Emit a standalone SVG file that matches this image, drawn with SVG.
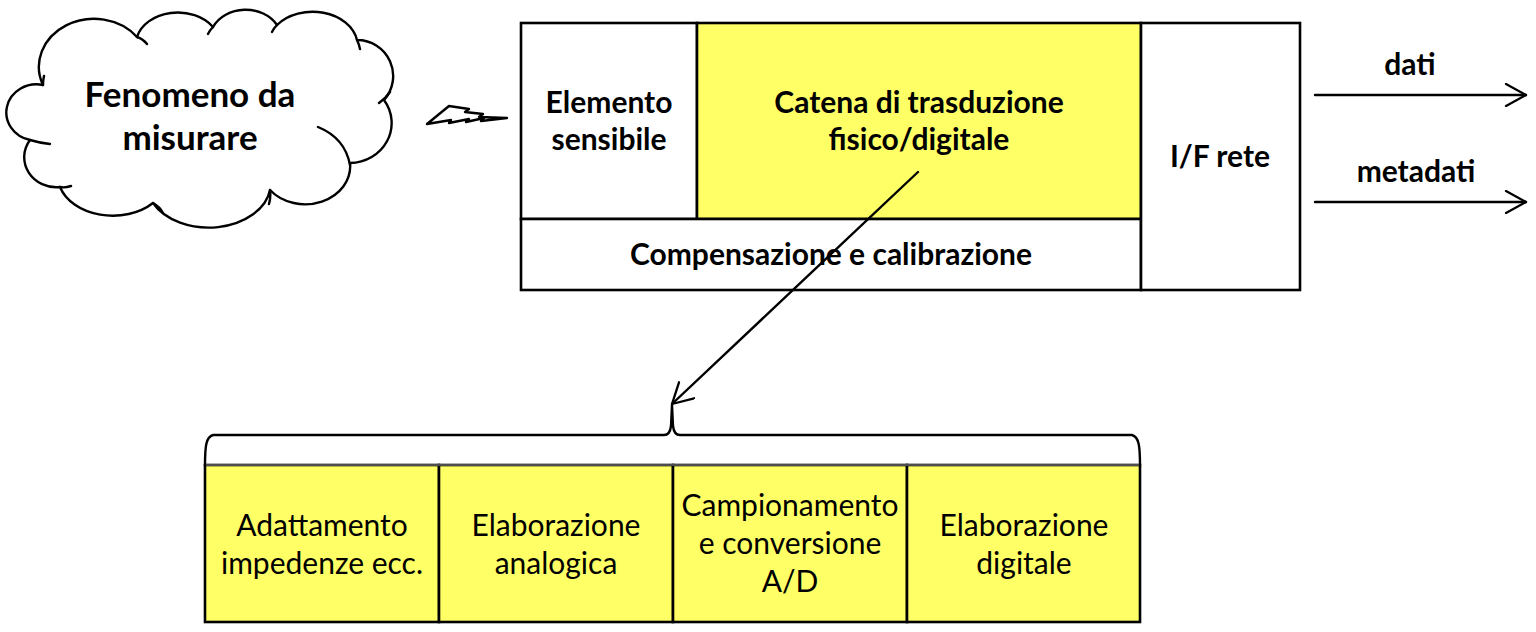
<svg xmlns="http://www.w3.org/2000/svg" width="1536" height="632" viewBox="0 0 1536 632">
<defs>
<style>
.ln{fill:none;stroke:#000;stroke-width:2.4;stroke-linecap:round;stroke-linejoin:round}
.box{stroke:#000;stroke-width:2.6}
.y{fill:#FFFF66}
.w{fill:#FFFFFF}
.tb{font-family:Lato,"Open Sans","Liberation Sans",sans-serif;font-weight:bold;font-size:30px;fill:#000;text-anchor:middle}
.tc{font-family:Lato,"Open Sans","Liberation Sans",sans-serif;font-weight:bold;font-size:35px;fill:#000;text-anchor:middle}
.tr{font-family:Lato,"Open Sans","Liberation Sans",sans-serif;font-size:30px;fill:#000;text-anchor:middle}
</style>
<marker id="ah" viewBox="0 0 24 24" refX="22" refY="12" markerWidth="24" markerHeight="24" markerUnits="userSpaceOnUse" orient="auto">
<path d="M2 1 L22 12 L2 23" fill="none" stroke="#000" stroke-width="2.3" stroke-linecap="round" stroke-linejoin="round"/>
</marker>
</defs>
<rect width="1536" height="632" fill="#FFFFFF"/>

<g id="cloud">
<path class="ln" style="fill:#FFFFFF" d="M43 85 A55 48 0 0 1 137 37 A42 32 0 0 1 213 27 A36 30 0 0 1 277 25 A45 34 0 0 1 357 40 A36 36 0 0 1 384 100 A42 40 0 0 1 350 163 A45 38 0 0 1 270 190 A62 44 0 0 1 153 203 A55 40 0 0 1 60 187 A32 30 0 0 1 30 140 A30 28 0 0 1 43 85 Z"/>
<path class="ln" d="M137 37 Q143 39 147 44 M213 27 Q210 30 208 34 M277 25 Q274 28 272 32 M357 40 Q359 44 360 49 M390 92 Q386 98 379 103 M318 127 Q345 138 350 165 M270 190 Q271 197 269 204 M153 203 Q160 207 163 213 M60 187 Q65 188 71 186 M30 140 Q40 143 50 144 M43 85 Q43 80 44 76"/>
<text class="tc" x="190" y="107">Fenomeno da</text>
<text class="tc" x="190" y="150">misurare</text>
</g>

<g id="signal">
<path class="ln" d="M427 124 L449 106 L469 109 L465 112 L483 114 L479 117 L507 118 L481 121 L484 118 L466 122 L469 119 L449 123 L451 120 Z"/>
</g>

<g id="sensor">
<rect id="elemento" class="box w" x="521" y="23" width="176" height="196"/>
<rect id="catena" class="box y" x="697" y="23" width="444" height="196"/>
<rect id="compensazione" class="box w" x="521" y="219" width="620" height="71"/>
<rect id="ifrete" class="box w" x="1141" y="23" width="159" height="267"/>
<text class="tb" x="609" y="113">Elemento</text>
<text class="tb" x="609" y="150">sensibile</text>
<text class="tb" x="919" y="113">Catena di trasduzione</text>
<text class="tb" x="919" y="150">fisico/digitale</text>
<text class="tb" x="1220" y="167">I/F rete</text>
<text class="tb" x="831" y="265">Compensazione e calibrazione</text>
</g>

<g id="chain">
<path id="brace" class="ln" d="M205 466 C205 446 206 437 213 435 L664 435 Q670 435 671 426 L672 405 L673 426 Q674 435 680 435 L1132 435 C1139 437 1140 446 1140 466"/>
<rect id="adattamento" class="box y" x="205" y="465" width="234" height="157"/>
<rect id="elab-analogica" class="box y" x="439" y="465" width="234" height="157"/>
<rect id="campionamento" class="box y" x="673" y="465" width="234" height="157"/>
<rect id="elab-digitale" class="box y" x="907" y="465" width="233" height="157"/>
<line x1="206" y1="465" x2="1139" y2="465" stroke="#9a9a9a" stroke-width="1.2"/>
<text class="tr" x="322" y="536">Adattamento</text>
<text class="tr" x="322" y="574">impedenze ecc.</text>
<text class="tr" x="556" y="536">Elaborazione</text>
<text class="tr" x="556" y="574">analogica</text>
<text class="tr" x="790" y="516">Campionamento</text>
<text class="tr" x="790" y="554">e conversione</text>
<text class="tr" x="790" y="592">A/D</text>
<text class="tr" x="1024" y="536">Elaborazione</text>
<text class="tr" x="1024" y="574">digitale</text>
</g>

<g id="connectors">
<line class="ln" x1="918" y1="172" x2="672" y2="404" marker-end="url(#ah)"/>
<line class="ln" x1="1315" y1="95" x2="1526" y2="95" marker-end="url(#ah)"/>
<line class="ln" x1="1315" y1="202" x2="1526" y2="202" marker-end="url(#ah)"/>
<text class="tb" x="1410" y="75">dati</text>
<text class="tb" x="1416" y="182">metadati</text>
</g>
</svg>
